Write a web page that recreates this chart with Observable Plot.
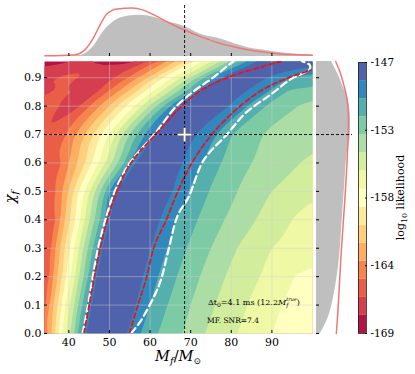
<!DOCTYPE html>
<html><head><meta charset="utf-8">
<script src="https://cdn.jsdelivr.net/npm/d3@7"></script>
<script src="https://cdn.jsdelivr.net/npm/@observablehq/plot@0.6"></script>
<style>
body{margin:0;background:#fff;}
#wrap{position:relative;width:415px;height:374px;font-family:"DejaVu Serif",serif;}
#wrap > svg{position:absolute;}
</style></head><body><div id="wrap"></div>
<script>
// ---------- data ----------
const xTicks = [40, 50, 60, 70, 80, 90];
const yTicks = [0, 0.1, 0.2, 0.3, 0.4, 0.5, 0.6, 0.7, 0.8, 0.9];
const levels = [-169, -167.53, -166.07, -164.6, -163.13, -161.67, -160.2, -158.73, -157.27, -155.8, -154.33, -152.87, -151.4, -149.93, -148.47, -147];
const cbTicks = [-147, -152.5, -158, -163.5, -169];
const cbLabels = ["-147", "-153", "-158", "-164", "-169"];
const crossM = 68.5, crossChi = 0.70;

// log10-likelihood read along rows of constant chi_f: [M_f, logL]
const fieldChi = [0, 0.1, 0.2, 0.3, 0.4, 0.5, 0.6, 0.7, 0.8, 0.85, 0.9, 0.957];
const fieldRows = [
 [[34,-163.72],[34.8,-163.13],[35.7,-161.67],[36.6,-160.2],[37.5,-158.73],[38.4,-157.27],[39.4,-155.8],[40.3,-154.33],[41.3,-152.87],[42.2,-151.4],[43.2,-149.93],[44.2,-148.47],[49.3,-147.3],[54.4,-148.47],[57.7,-149.93],[61.9,-151.4],[68,-152.87],[73.5,-154.33],[81.5,-155.8],[90,-157.27],[100,-158.44]],
 [[34,-164.75],[34.2,-164.6],[35.2,-163.13],[36.2,-161.67],[37.2,-160.2],[38.2,-158.73],[39.2,-157.27],[40.2,-155.8],[41.3,-154.33],[42.3,-152.87],[43.3,-151.4],[44.4,-149.93],[45.5,-148.47],[51,-147.3],[56.5,-148.47],[59.9,-149.93],[64.3,-151.4],[70,-152.87],[76,-154.33],[84,-155.8],[92.5,-157.27],[100,-158.0]],
 [[34,-165.48],[35.1,-164.6],[36.1,-163.13],[37.2,-161.67],[38.3,-160.2],[39.3,-158.73],[40.4,-157.27],[41.5,-155.8],[42.5,-154.33],[43.6,-152.87],[44.7,-151.4],[45.7,-149.93],[46.8,-148.47],[52.5,-147.3],[58.3,-148.47],[62,-149.93],[66.6,-151.4],[72.3,-152.87],[78.5,-154.33],[87,-155.8],[95.5,-157.27],[100,-157.56]],
 [[34,-165.77],[35.6,-164.6],[36.7,-163.13],[37.9,-161.67],[39,-160.2],[40.2,-158.73],[41.3,-157.27],[42.5,-155.8],[43.6,-154.33],[44.7,-152.87],[45.9,-151.4],[47,-149.93],[48.2,-148.47],[54.2,-147.3],[60.2,-148.47],[64.2,-149.93],[69,-151.4],[75,-152.87],[81.5,-154.33],[90,-155.8],[100,-156.54]],
 [[34,-165.92],[36.6,-164.6],[37.8,-163.13],[39,-161.67],[40.2,-160.2],[41.5,-158.73],[42.7,-157.27],[43.9,-155.8],[45.1,-154.33],[46.3,-152.87],[47.6,-151.4],[48.8,-149.93],[50,-148.47],[56.2,-147.3],[62.5,-148.47],[66.6,-149.93],[71.7,-151.4],[78.3,-152.87],[86,-154.33],[95,-155.8],[100,-156.39]],
 [[34,-165.77],[36.7,-164.6],[38.4,-163.13],[39.9,-161.67],[41.2,-160.2],[42.5,-158.73],[43.9,-157.27],[45.2,-155.8],[46.5,-154.33],[47.8,-152.87],[49,-151.4],[50.1,-149.93],[51.3,-148.47],[58.4,-147.3],[65.5,-148.47],[69.5,-149.93],[74.5,-151.4],[81.5,-152.87],[90,-154.33],[100,-155.36]],
 [[34,-165.63],[38,-164.6],[40,-163.13],[42,-161.67],[43.9,-160.2],[45.6,-158.73],[47.3,-157.27],[48.9,-155.8],[50.5,-154.33],[52,-152.87],[53.5,-151.4],[54.9,-149.93],[56.3,-148.47],[62,-147.3],[68,-148.47],[73,-149.93],[77.5,-151.4],[85,-152.87],[97,-154.33],[100,-154.63]],
 [[34,-165.63],[39.3,-164.6],[41.7,-163.13],[44,-161.67],[46.1,-160.2],[48,-158.73],[49.9,-157.27],[51.6,-155.8],[53.3,-154.33],[55,-152.87],[56.8,-151.4],[58.8,-149.93],[61.2,-148.47],[66.3,-147.3],[71.5,-148.47],[76.5,-149.93],[80.5,-151.4],[88,-152.87],[100,-153.9]],
 [[34,-165.63],[37.7,-166.07],[40.2,-166.8],[42.6,-166.07],[45.1,-164.6],[47.6,-163.13],[49.9,-161.67],[52,-160.2],[54.1,-158.73],[56.1,-157.27],[58,-155.8],[59.8,-154.33],[61.6,-152.87],[63.3,-151.4],[65,-149.93],[66.7,-148.47],[73,-147.3],[79.3,-148.47],[84,-149.93],[88.5,-151.4],[96.5,-152.87],[100,-153.31]],
 [[34,-166.36],[35.6,-166.07],[37.5,-165.92],[40.5,-166.07],[43.5,-166.95],[47,-166.07],[49.5,-164.6],[52,-163.13],[54.3,-161.67],[56.5,-160.2],[58.6,-158.73],[60.6,-157.27],[62.6,-155.8],[64.6,-154.33],[66.6,-152.87],[68.6,-151.4],[70.3,-149.93],[72,-148.47],[78,-147.3],[83.5,-148.47],[89,-149.93],[93.5,-151.4],[100,-151.84]],
 [[34,-166.8],[37.3,-166.07],[39.8,-165.77],[42.2,-166.07],[46.7,-167.24],[51.2,-166.07],[54.5,-164.6],[57,-163.13],[59.5,-161.67],[61.3,-160.2],[63.3,-158.73],[65.5,-157.27],[67.8,-155.8],[69.9,-154.33],[71.6,-152.87],[73.4,-151.4],[75.3,-149.93],[77.5,-148.47],[83,-147.3],[89,-148.47],[95,-149.93],[100,-150.52]],
 [[34,-168.27],[40.4,-167.53],[43,-167.09],[46.1,-167.53],[51,-168.12],[56,-167.53],[59.3,-166.07],[61.8,-164.6],[64,-163.13],[66.2,-161.67],[68.4,-160.2],[70.6,-158.73],[72.8,-157.27],[75,-155.8],[77.2,-154.33],[79.4,-152.87],[81.6,-151.4],[83.8,-149.93],[86,-148.47],[93,-147.3],[100,-147.73]]
];

// credible-region contours
const redLeftM   = [43.7, 45.0, 46.3, 47.7, 49.5, 51.8, 55.3, 61.3, 67.1, 71.9, 78.5, 85.9, 90.8, 92.2];
const redLeftChi = [0, 0.1, 0.2, 0.3, 0.4, 0.5, 0.6, 0.7, 0.79, 0.85, 0.897, 0.932, 0.952, 0.957];
const redRightM   = [54.9, 57, 59, 61.1, 64, 66.4, 70.3, 75.2, 81, 87.5, 94.1, 100];
const redRightChi = [0, 0.1, 0.19, 0.31, 0.4, 0.486, 0.6, 0.7, 0.785, 0.856, 0.9, 0.928];
const whiteLeftM   = [43.4, 44.7, 45.9, 47.2, 49, 51.3, 55, 61, 66.5, 71.1, 75.2, 79.3, 80.5];
const whiteLeftChi = [0, 0.1, 0.2, 0.3, 0.4, 0.5, 0.6, 0.7, 0.8, 0.856, 0.897, 0.944, 0.957];
const whiteRightM   = [55.3, 57.5, 61.1, 62.7, 64.4, 66.8, 69.5, 73.2, 78.9, 83.4, 90, 94.9, 97.4, 99.3, 99.3, 97.5];
const whiteRightChi = [0, 0.04, 0.134, 0.19, 0.286, 0.415, 0.48, 0.61, 0.7, 0.774, 0.844, 0.897, 0.914, 0.93, 0.945, 0.957];

// marginal on M_f
const topGrayM = [34, 42, 44.1, 46.1, 48.6, 51.1, 54.4, 57.6, 60.9, 64.2, 68.5, 72.4, 76.5, 80.6, 84.7, 88.9, 92.9, 100];
const topGray  = [0, 0.014, 0.06, 0.21, 0.52, 0.72, 0.83, 0.85, 0.81, 0.72, 0.62, 0.46, 0.38, 0.27, 0.17, 0.12, 0.07, 0.03];
const topRedM = [34.1, 41.2, 43.7, 46.1, 47.8, 49.4, 51.9, 55.6, 58.5, 61.8, 65, 68.3, 72.4, 76.5, 80.6, 84.7, 88.9, 92.9, 100];
const topRed  = [0.014, 0.03, 0.12, 0.39, 0.67, 0.88, 0.98, 1.0, 0.95, 0.82, 0.68, 0.55, 0.41, 0.29, 0.2, 0.13, 0.083, 0.048, 0.028];
// marginal on chi_f
const rightGrayChi = [0, 0.046, 0.162, 0.282, 0.398, 0.514, 0.634, 0.7, 0.75, 0.82, 0.866, 0.915, 0.957];
const rightGray    = [0.125, 0.33, 0.59, 0.73, 0.8, 0.875, 0.96, 1.06, 1.06, 1.0, 0.84, 0.66, 0.47];
const rightRedChi = [0, 0.046, 0.28, 0.515, 0.7, 0.75, 0.82, 0.88, 0.915, 0.957];
const rightRed    = [0.62, 0.65, 0.77, 0.91, 0.99, 1.0, 0.96, 0.84, 0.75, 0.6];

// ---------- build ----------
const spectral = ["#9e0142","#d53e4f","#f46d43","#fdae61","#fee08b","#ffffbf","#e6f598","#abdda4","#66c2a5","#3288bd","#5e4fa2"];
const interp = d3.piecewise(d3.interpolateRgb, spectral);
const bandColors = d3.range(15).map(i => interp((i + 0.5) / 15));
const colorScale = {type: "threshold", domain: levels.slice(1, 15), range: bandColors};

const xDomain = [34, 100], yDomain = [0, 0.957];

// grid for the contour: rows blended along the ridge (each row shifted by its peak),
// with a monotone cubic blend between rows
const W = 268, H = 272, NR = fieldChi.length;
const rowScale = fieldRows.map(r => d3.scaleLinear().domain(r.map(p => p[0])).range(r.map(p => p[1])).clamp(true));
const rowPeak = fieldRows.map(r => d3.greatest(r, p => p[1])[0]);
function slopeAt(k, v) {
  if (k <= 0) return (v[1] - v[0]) / (fieldChi[1] - fieldChi[0]);
  if (k >= NR - 1) return (v[NR - 1] - v[NR - 2]) / (fieldChi[NR - 1] - fieldChi[NR - 2]);
  const d0 = (v[k] - v[k - 1]) / (fieldChi[k] - fieldChi[k - 1]);
  const d1 = (v[k + 1] - v[k]) / (fieldChi[k + 1] - fieldChi[k]);
  return d0 * d1 <= 0 ? 0 : 2 * d0 * d1 / (d0 + d1);
}
function blend(r, t, v) {
  const h = fieldChi[r + 1] - fieldChi[r];
  const m0 = slopeAt(r, v), m1 = slopeAt(r + 1, v);
  const t2 = t * t, t3 = t2 * t;
  return (2*t3 - 3*t2 + 1) * v[r] + (t3 - 2*t2 + t) * h * m0 + (-2*t3 + 3*t2) * v[r + 1] + (t3 - t2) * h * m1;
}
const grid = new Array(W * H);
for (let j = 0; j < H; j++) {
  const chi = yDomain[0] + (j + 0.5) * (yDomain[1] - yDomain[0]) / H;
  const r = Math.max(0, Math.min(NR - 2, d3.bisectRight(fieldChi, chi) - 1));
  const t = (chi - fieldChi[r]) / (fieldChi[r + 1] - fieldChi[r]);
  const mc = blend(r, t, rowPeak);
  for (let i = 0; i < W; i++) {
    const M = xDomain[0] + (i + 0.5) * (xDomain[1] - xDomain[0]) / W;
    const u = M - mc;
    const v = rowScale.map((s, k) => s(rowPeak[k] + u));
    grid[j * W + i] = blend(r, t, v);
  }
}
const zip = (a, b, ka, kb) => a.map((v, i) => ({[ka]: v, [kb]: b[i]}));

const FONT = "DejaVu Serif";
const dash = {stroke: "black", strokeDasharray: "3,2", strokeWidth: 0.9};
const wrap = document.getElementById("wrap");

// top marginal
const topPlot = Plot.plot({
  width: 314, height: 59, marginTop: 5, marginBottom: 3, marginLeft: 44, marginRight: 2,
  style: {fontFamily: FONT, background: "transparent", overflow: "visible"},
  x: {domain: xDomain, axis: null}, y: {domain: [0, 1.05], axis: null},
  marks: [
    Plot.areaY(zip(topGrayM, topGray, "M", "d"), {x: "M", y: "d", fill: "#bfbfbf", curve: "monotone-x"}),
    Plot.lineY(zip(topRedM, topRed, "M", "d"), {x: "M", y: "d", stroke: "#f27878", strokeWidth: 1.5, curve: "monotone-x"}),
    Plot.ruleX([crossM], dash),
    Plot.axisX(xTicks, {anchor: "bottom", tickSize: -3, tickFormat: () => "", line: true, label: null})
  ]
});
topPlot.style.left = "0px"; topPlot.style.top = "0px";
wrap.appendChild(topPlot);

// main
const mainPlot = Plot.plot({
  width: 314, height: 315, marginTop: 2, marginBottom: 41, marginLeft: 44, marginRight: 2,
  style: {fontFamily: FONT, fontSize: "11px", background: "transparent", overflow: "visible"},
  x: {domain: xDomain, axis: null}, y: {domain: yDomain, axis: null},
  color: colorScale,
  marks: [
    Plot.contour(grid, {width: W, height: H, x1: xDomain[0], x2: xDomain[1], y1: yDomain[0], y2: yDomain[1], fill: Plot.identity, thresholds: levels.slice(0, 15), stroke: "none"}),
    Plot.gridX(xTicks, {stroke: "#d0d0d0", strokeOpacity: 0.55, strokeWidth: 0.8}),
    Plot.gridY(yTicks, {stroke: "#d0d0d0", strokeOpacity: 0.55, strokeWidth: 0.8}),
    Plot.line(zip(whiteLeftM, whiteLeftChi, "M", "chi"), {x: "M", y: "chi", stroke: "white", strokeWidth: 2.2, strokeDasharray: "7,4", curve: "catmull-rom", clip: true}),
    Plot.line(zip(whiteRightM, whiteRightChi, "M", "chi"), {x: "M", y: "chi", stroke: "white", strokeWidth: 2.2, strokeDasharray: "7,4", curve: "catmull-rom", clip: true}),
    Plot.line(zip(redLeftM, redLeftChi, "M", "chi"), {x: "M", y: "chi", stroke: "#e8141c", strokeWidth: 1.8, strokeDasharray: "5,3", curve: "catmull-rom", clip: true}),
    Plot.line(zip(redRightM, redRightChi, "M", "chi"), {x: "M", y: "chi", stroke: "#e8141c", strokeWidth: 1.8, strokeDasharray: "5,3", curve: "catmull-rom", clip: true}),
    Plot.ruleX([crossM], dash),
    Plot.ruleY([crossChi], dash),
    Plot.dot([{M: crossM, chi: crossChi}], {x: "M", y: "chi", symbol: "plus", r: 4.5, stroke: "#666", strokeWidth: 3.4}),
    Plot.dot([{M: crossM, chi: crossChi}], {x: "M", y: "chi", symbol: "plus", r: 4.5, stroke: "white", strokeWidth: 1.8}),
    Plot.axisX(xTicks, {anchor: "bottom", tickSize: -3, tickFormat: () => "", line: true, label: null}),
    Plot.axisX(xTicks, {anchor: "bottom", tickSize: 0, tickPadding: 5, label: null}),
    Plot.axisY(yTicks, {anchor: "left", tickSize: -3, tickFormat: () => "", line: true, label: null}),
    Plot.axisY(yTicks, {anchor: "left", tickSize: 0, tickPadding: 3, tickFormat: d3.format(".1f"), label: null})
  ]
});
mainPlot.style.left = "0px"; mainPlot.style.top = "59px";
wrap.appendChild(mainPlot);

// right marginal
const rightPlot = Plot.plot({
  width: 39, height: 315, marginTop: 2, marginBottom: 41, marginLeft: 2, marginRight: 1,
  style: {fontFamily: FONT, background: "transparent", overflow: "visible"},
  x: {domain: [0, 1.125], axis: null}, y: {domain: yDomain, axis: null},
  marks: [
    Plot.areaX(zip(rightGrayChi, rightGray, "chi", "d"), {y: "chi", x: "d", fill: "#bfbfbf", curve: "monotone-y"}),
    Plot.lineX(zip(rightRedChi, rightRed, "chi", "d"), {y: "chi", x: "d", stroke: "#f27878", strokeWidth: 1.5, curve: "monotone-y"}),
    Plot.ruleY([crossChi], dash),
    Plot.axisY(yTicks, {anchor: "left", tickSize: -3, tickFormat: () => "", line: true, label: null})
  ]
});
rightPlot.style.left = "314px"; rightPlot.style.top = "59px";
wrap.appendChild(rightPlot);

// colorbar
const cbData = levels.slice(0, 15).map((lo, i) => ({lo, hi: levels[i + 1]}));
const cbPlot = Plot.plot({
  width: 62, height: 315, marginTop: 3, marginBottom: 41, marginLeft: 5, marginRight: 49,
  style: {fontFamily: FONT, fontSize: "10.5px", background: "transparent", overflow: "visible"},
  y: {domain: [-169, -147], axis: null},
  color: colorScale,
  marks: [
    Plot.rect(cbData, {y1: "lo", y2: "hi", fill: "lo"}),
    Plot.frame({stroke: "#222", strokeWidth: 0.8}),
    Plot.axisY(cbTicks, {anchor: "right", tickSize: -2, tickFormat: () => "", label: null}),
    Plot.axisY(cbTicks, {anchor: "right", tickSize: 0, tickPadding: 4, tickFormat: d => cbLabels[cbTicks.indexOf(d)], label: null})
  ]
});
cbPlot.style.left = "353px"; cbPlot.style.top = "59px";
wrap.appendChild(cbPlot);

// ---------- rich text labels ----------
const ms = d3.select(mainPlot);
const xl = ms.append("text").attr("x", 178).attr("y", 302).attr("text-anchor", "middle")
  .attr("font-family", FONT).attr("font-size", 14.5).attr("fill", "black");
xl.append("tspan").attr("font-style", "italic").text("M");
xl.append("tspan").attr("font-style", "italic").attr("font-size", 10).attr("dy", 3).text("f");
xl.append("tspan").attr("dy", -3).text("/");
xl.append("tspan").attr("font-style", "italic").text("M");
xl.append("tspan").attr("font-size", 9).attr("dy", 3).text("⊙");

const yl = ms.append("text").attr("transform", "translate(15,138) rotate(-90)").attr("text-anchor", "middle")
  .attr("font-family", FONT).attr("font-size", 14.5).attr("fill", "black");
yl.append("tspan").attr("font-style", "italic").text("χ");
yl.append("tspan").attr("font-style", "italic").attr("font-size", 10).attr("dy", 3).text("f");

const a1 = ms.append("text").attr("x", 208).attr("y", 246).attr("text-anchor", "start")
  .attr("font-family", FONT).attr("font-size", 8).attr("fill", "black");
a1.append("tspan").text("Δt");
a1.append("tspan").attr("font-size", 6).attr("dy", 2).text("0");
a1.append("tspan").attr("dy", -2).text("=4.1 ms (12.2");
a1.append("tspan").attr("font-style", "italic").text("M");
a1.append("tspan").attr("font-style", "italic").attr("font-size", 5.5).attr("dy", 2).text("f");
a1.append("tspan").attr("font-style", "italic").attr("font-size", 5).attr("dx", -2).attr("dy", -6).text("true");
a1.append("tspan").attr("dy", 4).text(")");
ms.append("text").attr("x", 207).attr("y", 264).attr("text-anchor", "start")
  .attr("font-family", FONT).attr("font-size", 7.5).attr("fill", "black").text("MF. SNR=7.4");

const cl = d3.select(cbPlot).append("text").attr("transform", "translate(51,138.5) rotate(-90)").attr("text-anchor", "middle")
  .attr("font-family", FONT).attr("font-size", 11).attr("fill", "black");
cl.append("tspan").text("log");
cl.append("tspan").attr("font-size", 8).attr("dy", 3).text("10");
cl.append("tspan").attr("dy", -3).text(" likelihood");
</script></body></html>
